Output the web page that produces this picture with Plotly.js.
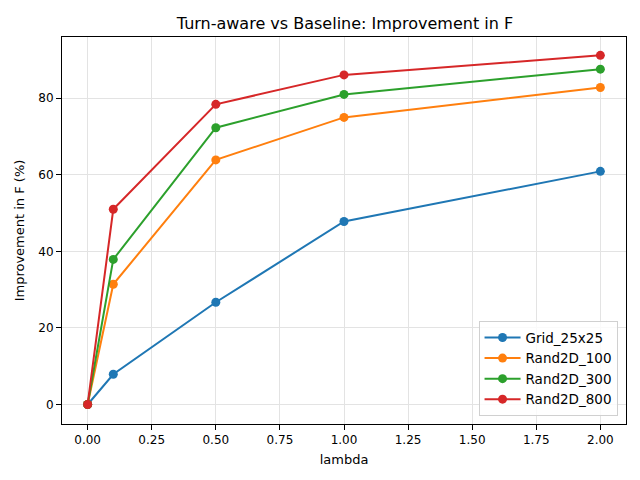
<!DOCTYPE html>
<html><head><meta charset="utf-8">
<script src="https://cdn.plot.ly/plotly-3.0.1.min.js"></script>
<style>body{margin:0;padding:0;}#chart{width:640px;height:480px;}</style>
</head><body><div id="chart"></div>
<script>
const lambdas = [0, 0.1, 0.5, 1.0, 2.0];
const seriesNames = ["Grid_25x25", "Rand2D_100", "Rand2D_300", "Rand2D_800"];
const grid25 = [0, 7.9, 26.7, 47.8, 60.9];
const rand100 = [0, 31.4, 63.9, 75.0, 82.8];
const rand300 = [0, 37.9, 72.3, 81.0, 87.6];
const rand800 = [0, 51.0, 78.4, 86.1, 91.2];
const colors = ["#1f77b4", "#ff7f0e", "#2ca02c", "#d62728"];
const xTicks = [0, 0.25, 0.5, 0.75, 1.0, 1.25, 1.5, 1.75, 2.0];
const xTickText = ["0.00", "0.25", "0.50", "0.75", "1.00", "1.25", "1.50", "1.75", "2.00"];
const yTicks = [0, 20, 40, 60, 80];

const allY = [grid25, rand100, rand300, rand800];
const traces = allY.map((ys, i) => ({
  x: lambdas, y: ys, name: seriesNames[i], type: "scatter", mode: "lines+markers",
  line: {color: colors[i], width: 2}, marker: {color: colors[i], size: 9}
}));

const font = {family: "DejaVu Sans, sans-serif", size: 13, color: "#000"};
const layout = {
  width: 640, height: 480,
  margin: {l: 62, r: 14, t: 37, b: 56},
  paper_bgcolor: "#fff", plot_bgcolor: "#fff",
  font: font,
  title: {text: "Turn-aware vs Baseline: Improvement in F", font: {family: "DejaVu Sans, sans-serif", size: 16, color: "#000"}, x: 0.539, xanchor: "center", y: 0.952, yanchor: "middle"},
  xaxis: {
    range: [-0.1, 2.1], tickvals: xTicks, ticktext: xTickText,
    showgrid: true, gridcolor: "#e3e3e3", gridwidth: 1, zeroline: false,
    showline: true, linecolor: "#000", linewidth: 1, mirror: true,
    ticks: "outside", ticklen: 5, tickcolor: "#000", tickfont: {size: 12},
    title: {text: "lambda", font: {size: 13}, standoff: 8}
  },
  yaxis: {
    range: [-5.1, 96], tickvals: yTicks,
    showgrid: true, gridcolor: "#e3e3e3", gridwidth: 1, zeroline: false,
    showline: true, linecolor: "#000", linewidth: 1, mirror: true,
    ticks: "outside", ticklen: 5, tickcolor: "#000", tickfont: {size: 12},
    title: {text: "Improvement in F (%)", font: {size: 13}, standoff: 10}
  },
  legend: {x: 0.985, xanchor: "right", y: 0.02, yanchor: "bottom",
    bordercolor: "#d0d0d0", borderwidth: 1, bgcolor: "rgba(255,255,255,0.8)",
    font: {size: 13.5}, tracegroupgap: 0, itemwidth: 36},
  showlegend: true
};
Plotly.newPlot("chart", traces, layout, {displayModeBar: false, staticPlot: true});
</script></body></html>
